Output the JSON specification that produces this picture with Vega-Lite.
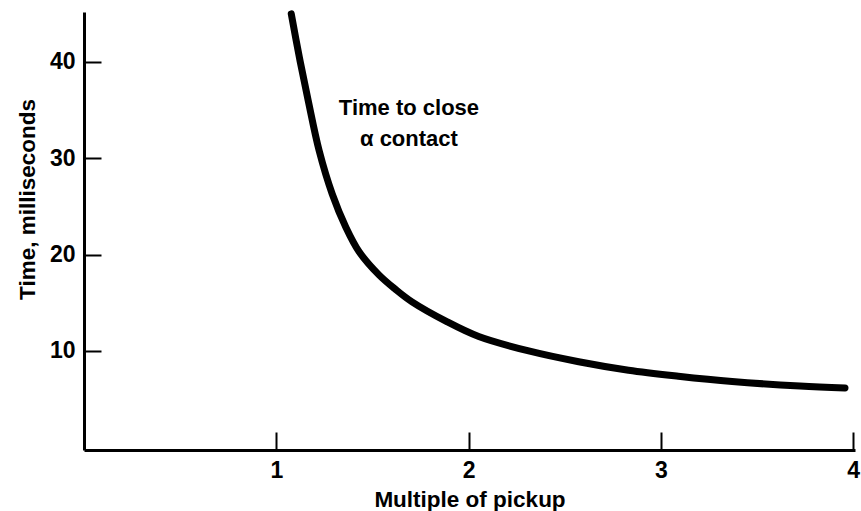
{
  "$schema": "https://vega.github.io/schema/vega-lite/v6.json",
  "width": 771,
  "height": 438,
  "autosize": {"type": "none"},
  "padding": {"left": 84, "top": 12, "right": 6, "bottom": 61},
  "background": "white",
  "config": {
    "view": {"stroke": null},
    "font": "Liberation Sans",
    "axis": {
      "grid": false,
      "domainColor": "black",
      "domainWidth": 3,
      "tickColor": "black",
      "tickWidth": 2,
      "labelFont": "Liberation Sans",
      "labelFontWeight": "bold",
      "labelFontSize": 23,
      "labelColor": "black",
      "titleFont": "Liberation Sans",
      "titleFontWeight": "bold",
      "titleFontSize": 22.5,
      "titleColor": "black"
    }
  },
  "datasets": {
    "curve": [
      {"multiple": 1.078, "time": 45.0},
      {"multiple": 1.119, "time": 40.6},
      {"multiple": 1.166, "time": 36.0},
      {"multiple": 1.223, "time": 30.8},
      {"multiple": 1.291, "time": 26.3},
      {"multiple": 1.363, "time": 22.8},
      {"multiple": 1.431, "time": 20.3},
      {"multiple": 1.534, "time": 17.9},
      {"multiple": 1.62, "time": 16.4},
      {"multiple": 1.706, "time": 15.1},
      {"multiple": 1.882, "time": 13.1},
      {"multiple": 2.053, "time": 11.5},
      {"multiple": 2.313, "time": 10.0},
      {"multiple": 2.573, "time": 8.88},
      {"multiple": 2.832, "time": 8.0},
      {"multiple": 3.091, "time": 7.38},
      {"multiple": 3.371, "time": 6.83},
      {"multiple": 3.724, "time": 6.36},
      {"multiple": 3.958, "time": 6.16}
    ],
    "notes": [
      {"multiple": 1.69, "time": 34.5, "label": "Time to close"},
      {"multiple": 1.69, "time": 31.3, "label": "α contact"}
    ]
  },
  "resolve": {"axis": {"x": "independent", "y": "independent"}},
  "layer": [
    {
      "data": {"name": "curve"},
      "mark": {"type": "line", "color": "black", "strokeWidth": 7, "strokeCap": "round", "interpolate": "catmull-rom"},
      "encoding": {
        "x": {
          "field": "multiple", "type": "quantitative",
          "scale": {"domain": [0, 4.01], "nice": false, "zero": false},
          "axis": {"orient": "bottom", "title": "Multiple of pickup", "values": [1, 2, 3, 4], "format": "d", "ticks": false, "tickSize": 0, "labelPadding": 9, "titlePadding": 6}
        },
        "y": {
          "field": "time", "type": "quantitative",
          "scale": {"domain": [-0.28, 45.19], "nice": false, "zero": false},
          "axis": {"orient": "left", "title": "Time, milliseconds", "values": [10, 20, 30, 40], "format": "d", "ticks": false, "tickSize": 0, "labelPadding": 9, "titlePadding": 10, "titleY": 187}
        }
      }
    },
    {
      "data": {"name": "notes"},
      "mark": {"type": "text", "font": "Liberation Sans", "fontWeight": "bold", "fontSize": 22, "align": "center", "baseline": "alphabetic", "color": "black"},
      "encoding": {
        "x": {
          "field": "multiple", "type": "quantitative",
          "axis": {"orient": "top", "offset": -438, "title": null, "labels": false, "domain": false, "ticks": true, "tickSize": 18, "values": [1, 2, 3, 4]}
        },
        "y": {
          "field": "time", "type": "quantitative",
          "axis": {"orient": "right", "offset": -771, "title": null, "labels": false, "domain": false, "ticks": true, "tickSize": 17, "values": [10, 20, 30, 40]}
        },
        "text": {"field": "label"}
      }
    }
  ]
}
